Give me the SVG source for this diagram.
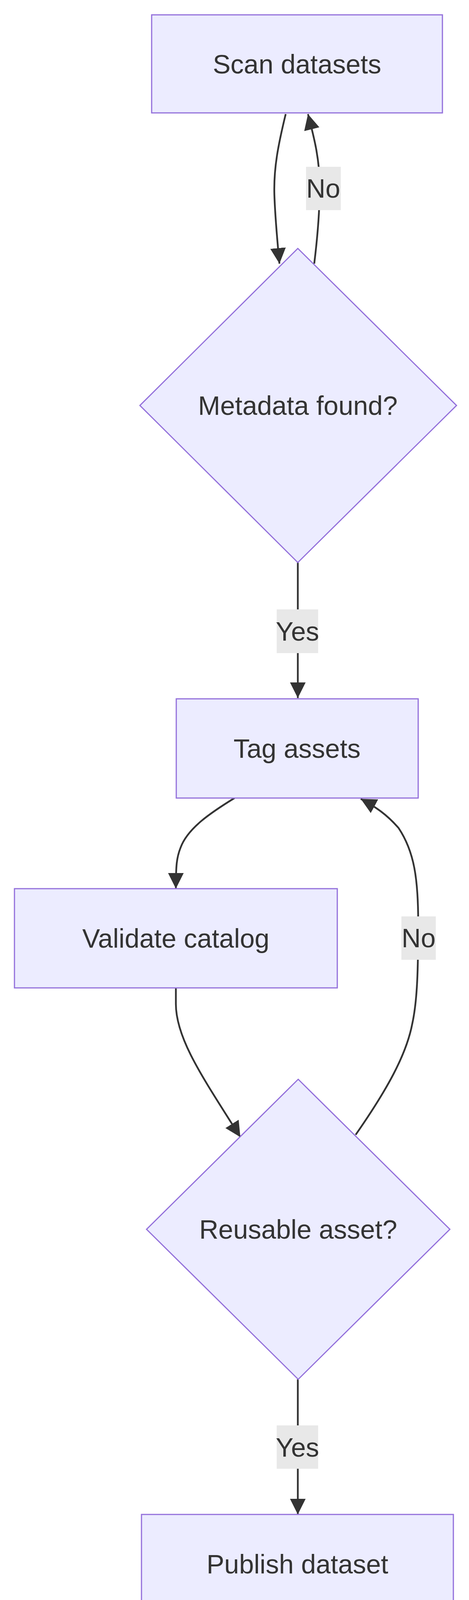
<svg xmlns="http://www.w3.org/2000/svg" width="1200" height="4168" viewBox="0 0 1200 4168">
<style>
.node{fill:#ECECFF;stroke:#9370DB;stroke-width:3}
.t{font-family:"Liberation Sans",Arial,sans-serif;font-size:68px;fill:#333;text-anchor:middle}
.e{fill:none;stroke:#333;stroke-width:4.5}
.lb{fill:#e8e8e8}
</style>
<defs>
<marker id="arr" viewBox="0 0 10 10" refX="10" refY="5" markerUnits="userSpaceOnUse" markerWidth="40" markerHeight="40" orient="auto">
<path d="M0,0 L10,5 L0,10 z" fill="#333"/>
</marker>
</defs>
<rect width="1200" height="4168" fill="#fff"/>
<g id="edges">
<path class="e" d="M731,292 C712,370 700,430 702,498 C704,560 710,620 715,675" marker-end="url(#arr)"/>
<path class="e" d="M804,675 C812,610 818,540 818,478 C818,400 800,340 788,292" marker-end="url(#arr)"/>
<path class="e" d="M762,1440 L762,1787" marker-end="url(#arr)"/>
<path class="e" d="M600,2043 C540,2080 480,2120 462,2170 C452,2195 450,2215 450,2275" marker-end="url(#arr)"/>
<path class="e" d="M450,2529 L450,2570 C450,2660 520,2760 615,2911" marker-end="url(#arr)"/>
<path class="e" d="M910,2905 C990,2790 1040,2700 1055,2620 C1068,2560 1070,2480 1070,2361 C1070,2250 1060,2180 1020,2120 C990,2085 960,2065 923,2045" marker-end="url(#arr)"/>
<path class="e" d="M762,3531 L762,3877" marker-end="url(#arr)"/>
<g id="lbl-no1"><rect class="lb" x="783" y="427" width="89" height="111"/><text class="t" x="827" y="506">No</text></g>
<g id="lbl-yes1"><rect class="lb" x="708" y="1560" width="106" height="112"/><text class="t" x="761" y="1640">Yes</text></g>
<g id="lbl-no2"><rect class="lb" x="1027" y="2346" width="88" height="111"/><text class="t" x="1071" y="2425">No</text></g>
<g id="lbl-yes2"><rect class="lb" x="708" y="3649" width="106" height="111"/><text class="t" x="761" y="3729">Yes</text></g>
</g>
<g id="scan"><rect class="node" x="388" y="38" width="744" height="251"/><text class="t" x="760" y="188">Scan datasets</text></g>
<g id="meta"><polygon class="node" points="762,636 1168,1038 762,1440 358,1038"/><text class="t" x="762" y="1062">Metadata found?</text></g>
<g id="tag"><rect class="node" x="451" y="1789" width="619" height="254"/><text class="t" x="760" y="1940">Tag assets</text></g>
<g id="validate"><rect class="node" x="37" y="2275" width="826" height="254"/><text class="t" x="450" y="2426">Validate catalog</text></g>
<g id="reuse"><polygon class="node" points="763,2763 1151,3147 763,3531 375,3147"/><text class="t" x="763" y="3171">Reusable asset?</text></g>
<g id="publish"><rect class="node" x="362" y="3877" width="798" height="253"/><text class="t" x="761" y="4028">Publish dataset</text></g>
</svg>
